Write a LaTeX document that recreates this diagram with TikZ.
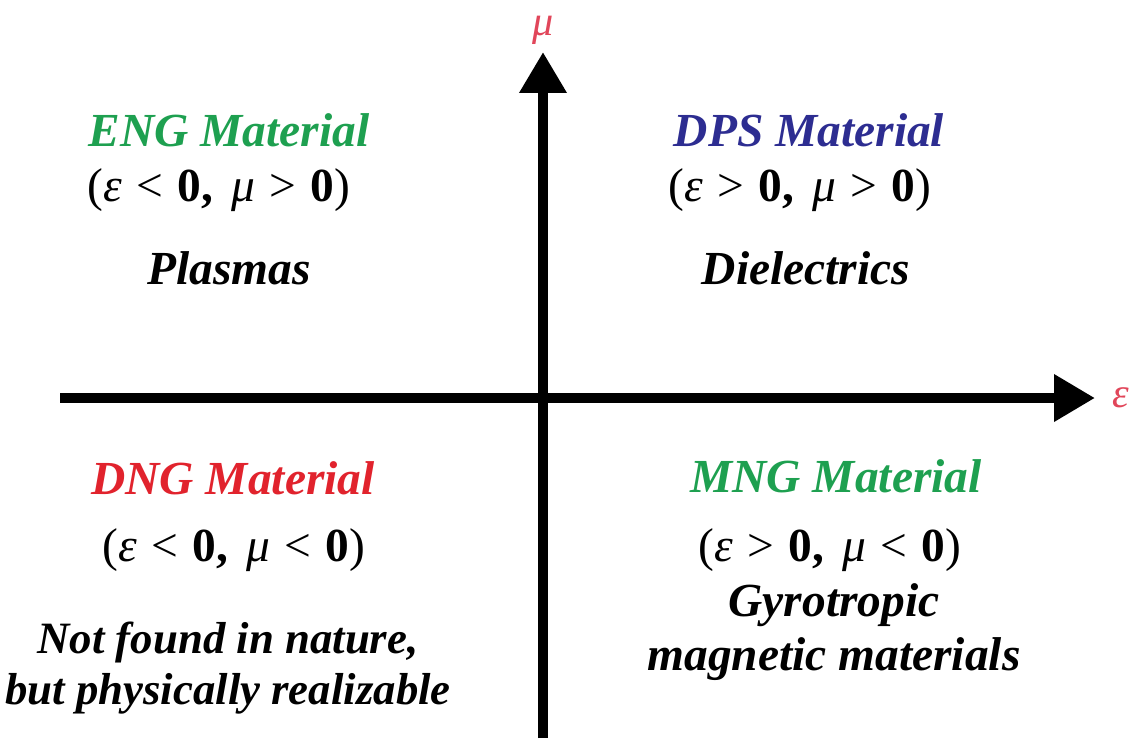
\documentclass[tikz,border=0pt]{standalone}
\usepackage{fontspec}
\setmainfont{Liberation Serif}
\usepackage{tikz}
\usetikzlibrary{arrows.meta,positioning}

\definecolor{enggreen}{RGB}{30,160,80}
\definecolor{dpsblue}{RGB}{45,45,145}
\definecolor{dngred}{RGB}{225,35,45}
\definecolor{axred}{RGB}{225,70,90}

% sign condition line: (eps ? 0, mu ? 0)
\newcommand{\signs}[2]{\upshape(\textit{ε}\hspace{0.3em}#1\hspace{0.3em}\textbf{0,}\hspace{0.4em}\textit{μ}\hspace{0.3em}#2\hspace{0.3em}\textbf{0})}

\begin{document}
\begin{tikzpicture}[
  x=0.02cm, y=-0.02cm,
  every node/.style={font=\fontsize{27}{31}\selectfont\bfseries\itshape, align=center, inner sep=0pt},
  title/.style={},
  cond/.style={font=\fontsize{27}{31}\selectfont},
  axis/.style={line width=0.2cm, -{Triangle[length=0.82cm, width=0.9cm]}},
  axlabel/.style={font=\fontsize{24}{28}\selectfont\itshape, text=axred}
]
  \useasboundingbox (0,0) rectangle (1135,738);

  % axes
  \coordinate (west) at (60,398);
  \coordinate (east) at (1095,398);
  \coordinate (south) at (543,738);
  \coordinate (north) at (543,52);
  \draw[axis] (west) -- (east);
  \draw[axis] (south) -- (north);
  \node[axlabel] (eps) at (1121,398) {ε};
  \node[axlabel] (mu) at (543,30) {μ};

  % upper left
  \node[title, text=enggreen] (eng) at (229,130) {ENG Material};
  \node[cond] (engc) at (219,190) {\signs{<}{>}};
  \node (plasma) at (229,268) {Plasmas};

  % upper right
  \node[title, text=dpsblue] (dps) at (809,130) {DPS Material};
  \node[cond] (dpsc) at (800,190) {\signs{>}{>}};
  \node (diel) at (806,268) {Dielectrics};

  % lower left
  \node[title, text=dngred] (dng) at (233,478) {DNG Material};
  \node[cond] (dngc) at (234,550) {\signs{<}{<}};
  \node[font=\fontsize{25.5}{29}\selectfont\bfseries\itshape] (nature) at (228,668) {Not found in nature,\\but physically realizable};

  % lower right
  \node[title, text=enggreen] (mng) at (836,476) {MNG Material};
  \node[cond] (mngc) at (830,550) {\signs{>}{<}};
  \node (gyro) at (834,632) {Gyrotropic\\magnetic materials};
\end{tikzpicture}
\end{document}
